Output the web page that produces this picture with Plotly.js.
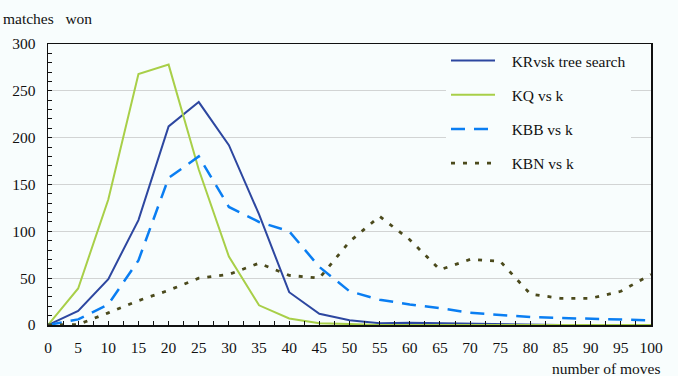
<!DOCTYPE html>
<html>
<head>
<meta charset="utf-8">
<script src="https://cdn.plot.ly/plotly-3.0.1.min.js"></script>
<style>html,body{margin:0;padding:0;background:#f8fdfd;}</style>
</head>
<body>
<div id="chart" style="width:678px;height:376px;"></div>
<script>
const moves = [0,5,10,15,20,25,30,35,40,45,50,55,60,65,70,75,80,85,90,95,100];
const krvsk = [0,15,49,112,212,238,192,118,35,12,5,2,2.5,2,1,1,0,0,0,0,0];
const kq    = [0,39,134,268,278,166,73,21,7,2,1,0,0,0,0,0,0,0,0,0,0];
const kbb   = [0,6,22,69,157,180,126,110,100,62,36,27,22,18,13,11,8.5,7.5,6.5,5.5,5];
const kbn   = [0,0.5,13,26,37,50,54,66,53,50,89,116,91,59,70,68,33,28.5,28.5,36,54];
const names = ["KRvsk tree search","KQ vs k","KBB vs k","KBN vs k"];

const serif = "Liberation Serif, Times New Roman, serif";
const bg = "#f8fdfd";
const pad = "\u00a0\u00a0\u00a0";

const traces = [
  {x: moves, y: krvsk, name: pad + names[0], legendgroup: "a", mode: "lines",
   line: {color: "#2d47a0", width: 2}},
  {x: moves, y: kq, name: pad + names[1], legendgroup: "b", mode: "lines",
   line: {color: "#a8cf48", width: 2}},
  {x: moves, y: kbb, name: pad + names[2], legendgroup: "c", mode: "lines",
   line: {color: "#0a7ef2", width: 2.5, dash: "14px,9px"}},
  {x: moves, y: kbn, name: pad + names[3], legendgroup: "d", mode: "lines",
   line: {color: "#4b4a1c", width: 2.8, dash: "4px,8px"}}
];

const layout = {
  width: 678, height: 376,
  paper_bgcolor: bg, plot_bgcolor: bg,
  margin: {l: 48, r: 27, t: 44, b: 51},
  font: {family: serif, size: 15.5, color: "#111"},
  showlegend: true,
  legend: {
    x: (446 - 48) / 603, y: 1, xanchor: "left", yanchor: "top",
    bgcolor: bg, borderwidth: 0,
    traceorder: "grouped", tracegroupgap: 11,
    font: {family: serif, size: 15.5, color: "#111"},
    itemwidth: 44, entrywidth: 202
  },
  xaxis: {
    range: [0, 100], dtick: 5, tick0: 0,
    ticks: "inside", ticklen: 4, tickcolor: "#111",
    minor: {dtick: 2.5, ticks: "inside", ticklen: 4, tickcolor: "#111"},
    showline: true, linecolor: "#111", linewidth: 1.5, mirror: true,
    showgrid: false, zeroline: false,
    ticklabelstandoff: 8,
    tickfont: {family: serif, size: 15.5, color: "#111"}
  },
  yaxis: {
    range: [0, 300], dtick: 50, tick0: 0,
    ticks: "inside", ticklen: 4, tickcolor: "#111",
    minor: {dtick: 10, ticks: "inside", ticklen: 4, tickcolor: "#111"},
    showline: true, linecolor: "#111", linewidth: 1.5, mirror: true,
    showgrid: true, gridcolor: "#d2d4d4", gridwidth: 1,
    zeroline: false,
    ticklabelstandoff: 8,
    tickfont: {family: serif, size: 15.5, color: "#111"}
  },
  annotations: [
    {text: "matches\u00a0\u00a0 won", xref: "paper", yref: "paper",
     x: -47/603, y: 1 + 25/281, xanchor: "left", yanchor: "middle",
     showarrow: false, font: {family: serif, size: 15.5, color: "#111"}},
    {text: "number of moves", xref: "paper", yref: "paper",
     x: 1 + 11/603, y: -43/281, xanchor: "right", yanchor: "middle",
     showarrow: false, font: {family: serif, size: 15.5, color: "#111"}}
  ]
};

Plotly.newPlot("chart", traces, layout, {displayModeBar: false, staticPlot: true});
</script>
</body>
</html>
